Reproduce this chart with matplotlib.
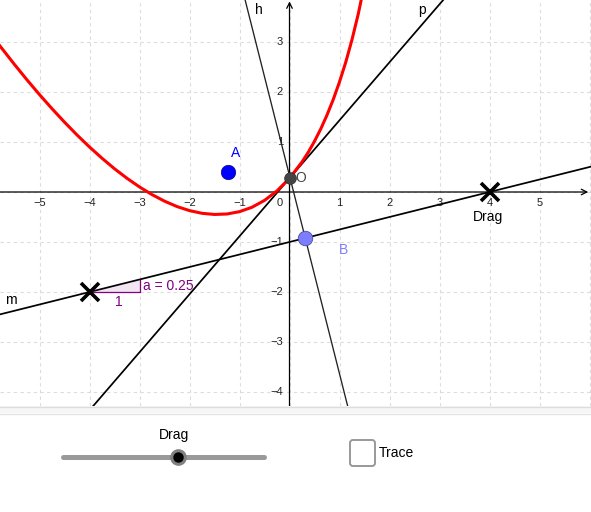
import matplotlib
matplotlib.use('Agg')
import matplotlib.pyplot as plt
from matplotlib.patches import FancyBboxPatch, Polygon

plt.rcParams['font.family'] = ['Liberation Sans', 'DejaVu Sans']

# Points
point_a = (-1.23, 0.406)
point_b = (0.316, -0.926)
point_o = (0.01, 0.286)
drag_left = (-4, -2)
drag_right = (4, 0)

# slope triangle on line m
triangle_x = [-4, -3, -3]
triangle_y = [-2, -2, -1.75]

# Red parabola
curve_x = [-5.8, -5.5, -5.25, -5, -4.75, -4.5, -4.25, -4, -3.75, -3.5, -3.25, -3, -2.75, -2.5,
           -2.25, -2, -1.75, -1.5, -1.25, -1, -0.75, -0.5, -0.25, 0, 0.25, 0.375, 0.5, 0.625, 0.75,
           0.875, 1, 1.125, 1.25, 1.375, 1.5]
curve_y = [2.932, 2.55, 2.243, 1.948, 1.666, 1.397, 1.141, 0.9, 0.675, 0.465, 0.274, 0.101, -0.052, -0.183,
           -0.291, -0.372, -0.426, -0.449, -0.44, -0.393, -0.305, -0.168, 0.022, 0.275, 0.601, 0.794, 1.015, 1.261, 1.539,
           1.85, 2.202, 2.596, 3.047, 3.56, 4.157]

x_ticks = [-5, -4, -3, -2, -1, 1, 2, 3, 4, 5]
y_ticks = [-4, -3, -2, -1, 1, 2, 3]

# 50 pixels per unit, origin at pixel (289.5, 192), view is 406 px high
W, H = 591, 512
view_h = 406
unit = 50
ox, oy = 289.5, 192

fig = plt.figure(figsize=(W / 100, H / 100), dpi=100)
fig.patch.set_facecolor('white')
ax = fig.add_axes([0, (H - view_h) / H, 1, view_h / H])
ax.set_xlim(-ox / unit, (W - ox) / unit)
ax.set_ylim((oy - view_h) / unit, oy / unit)
for s in ax.spines.values():
    s.set_visible(False)
ax.set_xticks([])
ax.set_yticks([])

# grid
for v in range(-5, 7):
    ax.axvline(v, color='#dcdcdc', lw=0.8, ls=(0, (3, 3)), zorder=1)
for v in range(-4, 4):
    ax.axhline(v, color='#dcdcdc', lw=0.8, ls=(0, (3, 3)), zorder=1)

# axes with open arrow heads
ax.annotate('', xy=(1, 1 - oy / view_h), xycoords='axes fraction',
            xytext=(0, 1 - oy / view_h), textcoords='axes fraction',
            arrowprops=dict(arrowstyle='->', color='black', lw=0.9, shrinkA=0, shrinkB=2, mutation_scale=10), zorder=2)
ax.annotate('', xy=(ox / W, 1), xycoords='axes fraction',
            xytext=(ox / W, 0), textcoords='axes fraction',
            arrowprops=dict(arrowstyle='->', color='black', lw=0.9, shrinkA=0, shrinkB=1, mutation_scale=10), zorder=2)

for t in x_ticks:
    label = str(t).replace('-', '\u2212')
    ax.text(t, -0.22, label, ha='center', va='center', fontsize=8, color='#222222')
ax.text(-0.19, -0.22, '0', ha='center', va='center', fontsize=8, color='#222222')
for t in y_ticks:
    label = str(t).replace('-', '\u2212')
    ax.text(-0.13, t, label, ha='right', va='center', fontsize=8, color='#222222')

# lines
ax.axline(drag_left, drag_right, color='black', lw=1.25, zorder=3)
ax.axline(point_o, point_b, color='#222222', lw=0.95, zorder=3)
ax.axline(point_o, slope=1.16, color='black', lw=1.25, zorder=3)

# parabola
ax.plot(curve_x, curve_y, color='#ff0000', lw=2.2, zorder=4)

# slope triangle
ax.add_patch(Polygon(list(zip(triangle_x, triangle_y)), closed=True, facecolor='#800080', alpha=0.1, zorder=3))
ax.plot(triangle_x, triangle_y, color='#800080', lw=0.9, zorder=3)
ax.text(-2.93, -1.87, 'a = 0.25', ha='left', va='center', fontsize=10, color='#800080', zorder=6)
ax.text(-3.42, -2.21, '1', ha='center', va='center', fontsize=10, color='#800080', zorder=6)

# points
ax.plot(*drag_left, marker='x', ms=12.5, mew=2.6, color='black', zorder=5)
ax.plot(*drag_right, marker='x', ms=12.5, mew=2.6, color='black', zorder=5)
ax.plot(*point_a, marker='o', ms=10.5, color='#0000ff', mec='#00006a', mew=0.4, zorder=5)
ax.plot(*point_b, marker='o', ms=10.5, color='#7d7dff', mec='#3d3d8a', mew=0.5, zorder=5)
ax.plot(*point_o, marker='o', ms=8.5, color='#444444', mec='#222222', mew=0.4, zorder=5)

# labels
ax.text(-1.07, 0.78, 'A', ha='center', va='center', fontsize=10, color='#0000ff', zorder=6)
ax.text(1.09, -1.16, 'B', ha='center', va='center', fontsize=10, color='#7d7dff', zorder=6)
ax.text(0.23, 0.29, 'O', ha='center', va='center', fontsize=10, color='#444444', zorder=6)
ax.text(3.98, -0.5, 'Drag', ha='center', va='center', fontsize=10, color='black', zorder=6)
ax.text(-5.58, -2.17, 'm', ha='center', va='center', fontsize=10, color='black', zorder=6)
ax.text(-0.61, 3.64, 'h', ha='center', va='center', fontsize=10, color='black', zorder=6)
ax.text(2.65, 3.64, 'p', ha='center', va='center', fontsize=10, color='black', zorder=6)

# panel below the graphics view, drawn in pixel coordinates
panel = fig.add_axes([0, 0, 1, 1], facecolor='none')
panel.set_xlim(0, W)
panel.set_ylim(H, 0)
panel.axis('off')
panel.fill_between([0, W], 406, 413, color='#f6f6f6', lw=0)
panel.plot([0, W], [406.5, 406.5], color='#dddddd', lw=0.9)
panel.plot([0, W], [413.5, 413.5], color='#e2e2e2', lw=0.9)

# slider
panel.plot([63, 264], [456.5, 456.5], color='#999999', lw=3.6, solid_capstyle='round')
panel.plot(177.5, 456.5, marker='o', ms=12, color='#808080', mew=0)
panel.plot(177.5, 456.5, marker='o', ms=7.5, color='black', mew=0)
panel.text(174, 435, 'Drag', ha='center', va='center', fontsize=10, color='black')

# checkbox
panel.add_patch(FancyBboxPatch((350, 440), 25, 26, boxstyle='round,pad=0,rounding_size=3',
                               facecolor='white', edgecolor='#999999', lw=1.4))
panel.text(379, 453, 'Trace', ha='left', va='center', fontsize=10, color='black')

fig.savefig('out.png', dpi=100)
